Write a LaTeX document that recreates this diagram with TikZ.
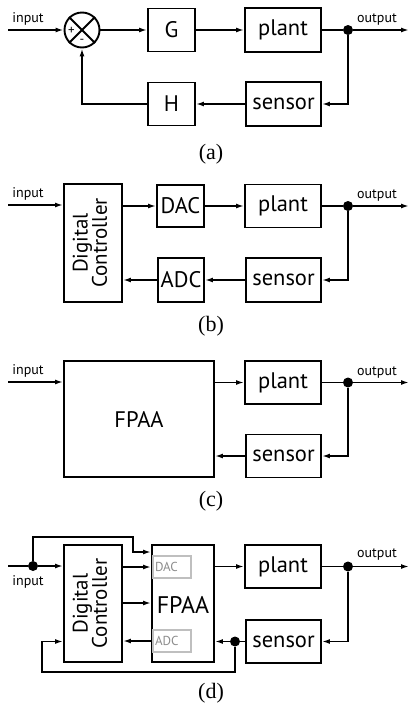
\documentclass[tikz,border=0pt]{standalone}
\usepackage{fontspec}
\setmainfont{Liberation Serif}
\setsansfont{PT Sans}
\usetikzlibrary{arrows.meta}

\begin{document}
\begin{tikzpicture}[
  x=1pt, y=-1pt,
  font=\sffamily,
  box/.style={draw, line width=1.9pt, inner sep=0pt, font=\sffamily\fontsize{22.5}{24}\selectfont},
  inbox/.style={draw=black!25, line width=1.6pt, minimum width=38, minimum height=22,
                inner sep=0pt, text=black!45, font=\sffamily\fontsize{13}{14}\selectfont,
                text width=34, align=left},
  arr/.style={-{Latex[length=8pt,width=5pt]}, line width=1.9pt},
  ln/.style={line width=1.9pt},
  dot/.style={circle, fill, inner sep=0pt, minimum size=10},
  lab/.style={font=\sffamily\fontsize{14}{15}\selectfont},
  capt/.style={font=\rmfamily\fontsize{22}{24}\selectfont},
  ctrl/.style={font=\sffamily\fontsize{21}{21}\selectfont}
]
\useasboundingbox (0,0) rectangle (413,710);

% (a) classic loop
\node[circle, draw, line width=1.9pt, minimum size=35, inner sep=0pt] (sum) at (82,30) {};
\draw[ln] (sum.45) -- (sum.225) (sum.135) -- (sum.-45);
\node[font=\sffamily\fontsize{13}{13}\selectfont, inner sep=0pt] at (71.5,31) {+};
\node[font=\sffamily\fontsize{13}{13}\selectfont, inner sep=0pt] at (82,41) {-};
\node[box, minimum width=47, minimum height=43] (g) at (171.5,30) {G};
\node[box, minimum width=76, minimum height=44] (pa) at (283,30) {plant};
\node[box, minimum width=75, minimum height=44] (sa) at (283.5,104) {sensor};
\node[box, minimum width=47, minimum height=43] (h) at (171.5,104) {H};
\node[dot] (da) at (348,30) {};
\coordinate (ina) at (8,30);
\coordinate (outa) at (409,30);
\node[lab] at (28,19) {input};
\node[lab] at (377,20) {output};

\draw[arr] (ina) -- (sum.west);
\draw[arr] (sum.east) -- (g.west);
\draw[arr] (g.east) -- (pa.west);
\draw[ln] (pa.east) -- (da);
\draw[arr] (da) -- (outa);
\draw[arr] (da) |- (sa.east);
\draw[arr] (sa.west) -- (h.east);
\draw[arr] (h.west) -| (sum.south);
\node[capt] at (211,154) {(a)};

% (b) digital controller
\node[box, ctrl, minimum width=58, minimum height=118] (dcb) at (93,243)
  {\rotatebox{90}{\begin{tabular}{@{}c@{}}Digital\\[-2pt]Controller\end{tabular}}};
\node[box, minimum width=47, minimum height=42] (dac) at (180.5,206) {DAC};
\node[box, minimum width=76, minimum height=43] (pb) at (283,206) {plant};
\node[box, minimum width=75, minimum height=44] (sb) at (283.5,280) {sensor};
\node[box, minimum width=46, minimum height=44] (adc) at (181,280) {ADC};
\node[dot] (db) at (348,206) {};
\coordinate (inb) at (8,205);
\coordinate (outb) at (409,206);
\node[lab] at (28,194) {input};
\node[lab] at (377,196) {output};

\draw[arr] (inb) -- (inb -| dcb.west);
\draw[arr] (dcb.east |- dac.west) -- (dac.west);
\draw[arr] (dac.east) -- (pb.west);
\draw[ln] (pb.east) -- (db);
\draw[arr] (db) -- (outb);
\draw[arr] (db) |- (sb.east);
\draw[arr] (sb.west) -- (adc.east);
\draw[arr] (adc.west) -- (adc.west -| dcb.east);
\node[capt] at (211,326) {(b)};

% (c) FPAA alone
\node[box, minimum width=150, minimum height=116] (fc) at (139,419) {FPAA};
\node[box, minimum width=76, minimum height=43] (pc) at (283,382.5) {plant};
\node[box, minimum width=75, minimum height=43] (sc) at (283.5,456) {sensor};
\node[dot] (dcc) at (348,382.5) {};
\coordinate (inc) at (8,382);
\coordinate (outc) at (409,382.5);
\node[lab] at (28,371) {input};
\node[lab] at (377,373) {output};

\draw[arr] (inc) -- (inc -| fc.west);
\draw[arr] (fc.east |- pc.west) -- (pc.west);
\draw[ln] (pc.east) -- (dcc);
\draw[arr] (dcc) -- (outc);
\draw[arr] (dcc) |- (sc.east);
\draw[arr] (sc.west) -- (sc.west -| fc.east);
\node[capt] at (211,501) {(c)};

% (d) controller + FPAA
\node[box, ctrl, minimum width=58, minimum height=117] (dcd) at (93,603.5)
  {\rotatebox{90}{\begin{tabular}{@{}c@{}}Digital\\[-2pt]Controller\end{tabular}}};
\node[box, minimum width=62, minimum height=117] (fd) at (183,603.5) {};
\node[inbox] (dacd) at (172,567) {DAC};
\node[inbox] (adcd) at (172,641) {ADC};
\node[font=\sffamily\fontsize{24}{24}\selectfont] at (183,605) {FPAA};
\node[box, minimum width=76, minimum height=43] (pd) at (283,566.5) {plant};
\node[box, minimum width=75, minimum height=43] (sd) at (283.5,641.5) {sensor};
\node[dot] (dd) at (348,566.5) {};
\node[dot] (di) at (33,566) {};
\node[dot] (ds) at (235,641.5) {};
\coordinate (ind) at (8,566);
\coordinate (outd) at (409,566.5);
\coordinate (up) at (133,537);
\coordinate (mid) at (0,603);
\coordinate (lo) at (42,672);
\node[lab] at (28,582) {input};
\node[lab] at (377,555) {output};

\draw[ln] (ind) -- (di);
\draw[arr] (di) -- (di -| dcd.west);
\draw[arr] (di) |- (up) |- ([yshift=15pt]dacd.west -| fd.west);
\draw[arr] (dcd.east |- dacd.west) -- (fd.west |- dacd.west);
\draw[arr] (dcd.east |- mid) -- (fd.west |- mid);
\draw[arr] (fd.west |- adcd.west) -- (dcd.east |- adcd.west);
\draw[arr] (fd.east |- pd.west) -- (pd.west);
\draw[ln] (pd.east) -- (dd);
\draw[arr] (dd) -- (outd);
\draw[arr] (dd) |- (sd.east);
\draw[ln] (sd.west) -- (ds);
\draw[arr] (ds) -- (ds -| fd.east);
\draw[arr] (ds) |- (lo) |- (dcd.west |- ds);
\node[capt] at (211,693) {(d)};
\end{tikzpicture}
\end{document}
